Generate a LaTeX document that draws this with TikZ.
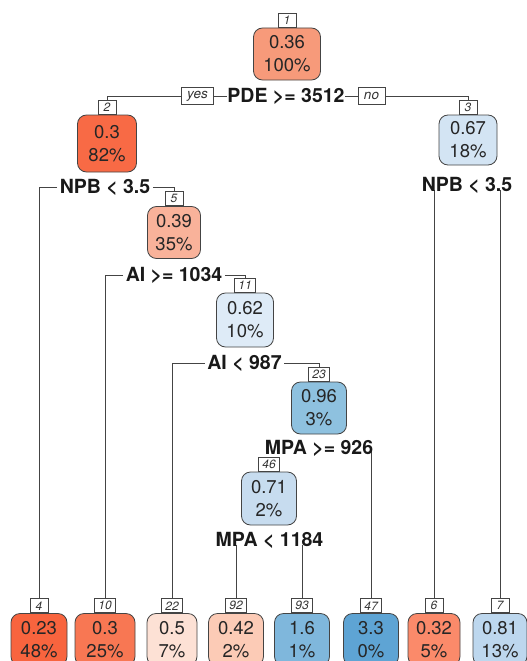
\documentclass[tikz,border=0pt]{standalone}
\usepackage{fontspec}
\setmainfont{TeX Gyre Heros}
\usetikzlibrary{backgrounds}
\definecolor{cA}{HTML}{F79A7A}
\definecolor{cB}{HTML}{F86A45}
\definecolor{cC}{HTML}{D3E4F3}
\definecolor{cD}{HTML}{F9B29A}
\definecolor{cE}{HTML}{DEEBF7}
\definecolor{cF}{HTML}{8EC1DF}
\definecolor{cG}{HTML}{C7DCEF}
\definecolor{cH}{HTML}{F8643E}
\definecolor{cI}{HTML}{F87753}
\definecolor{cJ}{HTML}{FDE1D5}
\definecolor{cK}{HTML}{FCCBB6}
\definecolor{cL}{HTML}{7FB7DC}
\definecolor{cM}{HTML}{5EA4D4}
\definecolor{cN}{HTML}{FB8A6A}
\definecolor{cO}{HTML}{BDD7EE}
\definecolor{ln}{HTML}{444444}
\tikzset{
  box/.style={draw=ln, rounded corners=9pt, line width=0.8pt, align=center,
    minimum height=52pt, minimum width=55pt, inner xsep=8pt,
    font=\fontsize{18.5}{23}\selectfont, text=black!85},
  nlab/.style={draw=ln, fill=white, line width=0.7pt,
    font=\fontsize{12}{12}\selectfont\itshape, inner xsep=3.5pt, inner ysep=1pt,
    minimum height=14pt, minimum width=18pt, anchor=south, text=black!80},
  split/.style={font=\fontsize{19.5}{19.5}\selectfont\bfseries, inner sep=0.5pt, text=black!90},
  yn/.style={draw=ln, fill=white, line width=0.7pt, font=\fontsize{13.5}{13}\selectfont\itshape,
    inner xsep=6pt, inner ysep=1pt, minimum height=17pt, text=black!80},
  edge/.style={draw=ln, line width=0.9pt}
}
\begin{document}
\begin{tikzpicture}[x=1pt,y=-1pt]
\useasboundingbox (0,0) rectangle (527,661);
% inner nodes
\node[box, fill=cA, minimum width=67pt] (n1) at (287,54) {0.36\\100\%};
\node[box, fill=cB, minimum width=59pt, minimum height=57pt] (n2) at (107,143.5) {0.3\\82\%};
\node[box, fill=cC, minimum width=58pt, minimum height=50pt] (n3) at (468,140) {0.67\\18\%};
\node[box, fill=cD, minimum width=53pt] (n5) at (174,232.5) {0.39\\35\%};
\node[box, fill=cE, minimum width=57pt, minimum height=54pt] (n11) at (245,320) {0.62\\10\%};
\node[box, fill=cF] (n23) at (319,408) {0.96\\3\%};
\node[box, fill=cG, minimum height=53pt] (n46) at (269,498.5) {0.71\\2\%};
% leaves
\node[box, fill=cH, minimum width=56pt] (l4) at (39,639.5) {0.23\\48\%};
\node[box, fill=cI, minimum width=60pt] (l10) at (105,639.5) {0.3\\25\%};
\node[box, fill=cJ, minimum width=50pt] (l22) at (172,639.5) {0.5\\7\%};
\node[box, fill=cK] (l92) at (236,639.5) {0.42\\2\%};
\node[box, fill=cL] (l93) at (302,639.5) {1.6\\1\%};
\node[box, fill=cM] (l47) at (371,639.5) {3.3\\0\%};
\node[box, fill=cN, minimum width=52pt] (l6) at (434,639.5) {0.32\\5\%};
\node[box, fill=cO, minimum width=54pt] (l7) at (500,639.5) {0.81\\13\%};
% node number labels
\node[nlab] (b1) at (n1.north) {1};
\node[nlab] (b2) at (n2.north) {2};
\node[nlab] (b3) at (n3.north) {3};
\node[nlab] (b5) at (n5.north) {5};
\node[nlab] (b11) at (n11.north) {11};
\node[nlab] (b23) at (n23.north) {23};
\node[nlab] (b46) at (n46.north) {46};
\node[nlab] (b4) at (l4.north) {4};
\node[nlab] (b10) at (l10.north) {10};
\node[nlab] (b22) at (l22.north) {22};
\node[nlab] (b92) at (l92.north) {92};
\node[nlab] (b93) at (l93.north) {93};
\node[nlab] (b47) at (l47.north) {47};
\node[nlab] (b6) at (l6.north) {6};
\node[nlab] (b7) at (l7.north) {7};
% split labels
\node[split] (s1) at (286,96) {PDE >= 3512};
\node[yn] (yes) at (197.5,96) {yes};
\node[yn] (no) at (371.5,96) {no};
\node[split] (s2) at (105,187) {NPB < 3.5};
\node[split] (s3) at (467,185) {NPB < 3.5};
\node[split] (s5) at (174,275) {AI >= 1034};
\node[split] (s11) at (244.5,363) {AI < 987};
\node[split] (s23) at (319,448) {MPA >= 926};
\node[split] (s46) at (269.5,540) {MPA < 1184};
% connectors
\begin{scope}[on background layer]
\draw[edge] (yes.west) -| (b2.north);
\draw[edge] (yes.east) -- (s1.west);
\draw[edge] (s1.east) -- (no.west);
\draw[edge] (no.east) -| (b3.north);
\draw[edge] ([xshift=-2pt]s2.west) -| (b4.north);
\draw[edge] ([xshift=2pt]s2.east) -| (b5.north);
\draw[edge] ([yshift=4pt]s3.south -| b6.north) -- (b6.north);
\draw[edge] ([yshift=4pt]s3.south -| b7.north) -- (b7.north);
\draw[edge] ([xshift=-2pt]s5.west) -| (b10.north);
\draw[edge] ([xshift=2pt]s5.east) -| (b11.north);
\draw[edge] ([xshift=-2pt]s11.west) -| (b22.north);
\draw[edge] ([xshift=2pt]s11.east) -| (b23.north);
\draw[edge] ([yshift=6pt]s23.south -| b47.north) -- (b47.north);
\draw[edge] ([yshift=4pt]s46.south -| b92.north) -- (b92.north);
\draw[edge] ([yshift=4pt]s46.south -| b93.north) -- (b93.north);
\end{scope}
\end{tikzpicture}
\end{document}
